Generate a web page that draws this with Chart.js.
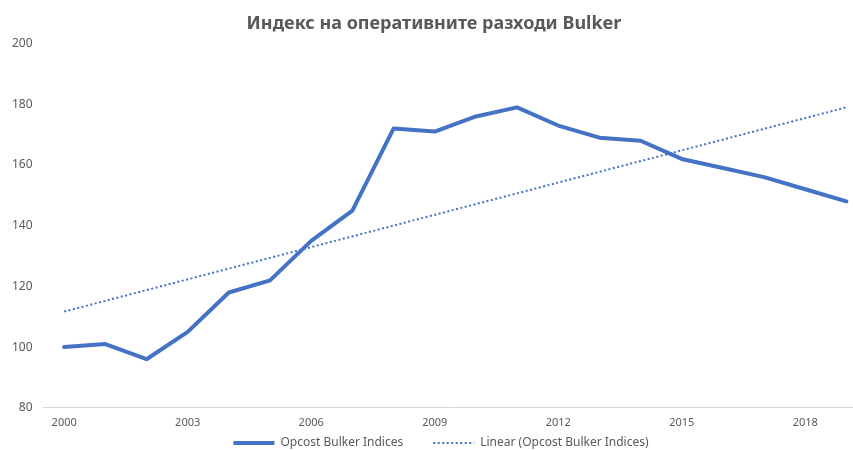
<!DOCTYPE html>
<html>
<head>
<meta charset="utf-8">
<script src="https://cdn.jsdelivr.net/npm/chart.js@4/dist/chart.umd.min.js"></script>
<style>
    html, body { margin: 0; padding: 0; background: #fff; overflow: hidden; }
    #wrap { width: 867px; height: 450px; }
</style>
</head>
<body>
<div id="wrap"><canvas id="opcostChart"></canvas></div>
<script>
// --- Data ---
const years = ['2000', '2001', '2002', '2003', '2004', '2005', '2006', '2007', '2008', '2009',
               '2010', '2011', '2012', '2013', '2014', '2015', '2016', '2017', '2018', '2019'];
const opcostValues = [100, 101, 96, 105, 118, 122, 135, 145, 172, 171,
                      176, 179, 173, 169, 168, 162, 159, 156, 152, 148];
// Trendline ends (straight line between them)
const trendStart = 111.7;
const trendEnd = 179;
const yTicks = [80, 100, 120, 140, 160, 180, 200];

const chartTitle = 'Индекс на оперативните разходи Bulker';
const seriesName = 'Opcost Bulker Indices';
const trendName = 'Linear (Opcost Bulker Indices)';

const textColor = '#595959';
const lineColor = '#4472c4';

// trend series: only the two ends, gaps spanned
const trendValues = years.map((_, i) => {
    if (i === 0) return trendStart;
    if (i === years.length - 1) return trendEnd;
    return null;
});

Chart.defaults.font.family = "'Noto Sans', 'Open Sans', sans-serif";
Chart.defaults.color = textColor;

// Legend sits close under the axis labels, like the Excel original
const LEGEND_RESERVE = 13;
const LEGEND_CENTER_Y = 443;
const LEGEND_SHIFT_X = 7;
const legendTweak = {
    id: 'legendTweak',
    afterInit(chart) {
        const legend = chart.legend;
        const origFit = legend.fit;
        legend.fit = function () {
            origFit.call(this);
            this.height = LEGEND_RESERVE;
        };
    },
    afterLayout(chart) {
        const legend = chart.legend;
        const pad = legend.options.labels.padding;
        const half = legend.options.labels.font.size / 2;
        legend.top = LEGEND_CENTER_Y - half - pad;
        legend.bottom = chart.height;
        legend.height = legend.bottom - legend.top;
        legend.left += LEGEND_SHIFT_X;
        legend.right += LEGEND_SHIFT_X;
    }
};

const ctx = document.getElementById('opcostChart').getContext('2d');
new Chart(ctx, {
    type: 'line',
    data: {
        labels: years,
        datasets: [{
            label: seriesName,
            data: opcostValues,
            borderColor: lineColor,
            backgroundColor: lineColor,
            borderWidth: 4,
            pointRadius: 0,
            tension: 0,
            borderJoinStyle: 'round',
            borderCapStyle: 'round'
        }, {
            label: trendName,
            data: trendValues,
            spanGaps: true,
            borderColor: lineColor,
            backgroundColor: lineColor,
            borderWidth: 2,
            borderDash: [2, 2.5],
            borderCapStyle: 'butt',
            pointRadius: 0
        }]
    },
    options: {
        responsive: true,
        maintainAspectRatio: false,
        animation: false,
        layout: { padding: { top: 8, right: 0, bottom: 0, left: 1 } },
        scales: {
            x: {
                offset: true,
                grid: { display: false, drawTicks: false },
                border: { display: true, color: '#d9d9d9', width: 1 },
                ticks: {
                    autoSkip: false,
                    maxRotation: 0,
                    padding: 8,
                    font: { size: 11 },
                    callback: (val, i) => (i % 3 === 0 ? years[i] : '')
                }
            },
            y: {
                min: 80,
                max: 200,
                afterBuildTicks: axis => { axis.ticks = yTicks.map(v => ({ value: v })); },
                grid: { display: false, drawTicks: false },
                border: { display: false },
                ticks: { padding: 11, font: { size: 12 } }
            }
        },
        plugins: {
            title: {
                display: true,
                text: chartTitle,
                color: textColor,
                font: { size: 18, weight: 'bold' },
                padding: { top: 5, bottom: 9 }
            },
            legend: {
                position: 'bottom',
                labels: {
                    usePointStyle: true,
                    pointStyle: 'line',
                    pointStyleWidth: 41,
                    padding: 30,
                    color: textColor,
                    font: { size: 12 },
                    generateLabels(chart) {
                        const items = Chart.defaults.plugins.legend.labels.generateLabels(chart);
                        items.forEach(item => {
                            const ds = chart.data.datasets[item.datasetIndex];
                            item.lineWidth = ds.borderWidth;
                            item.lineDash = ds.borderDash || [];
                            item.lineCap = 'butt';
                            item.strokeStyle = ds.borderColor;
                        });
                        return items;
                    }
                }
            },
            tooltip: { enabled: false }
        }
    },
    plugins: [legendTweak]
});
</script>
</body>
</html>
